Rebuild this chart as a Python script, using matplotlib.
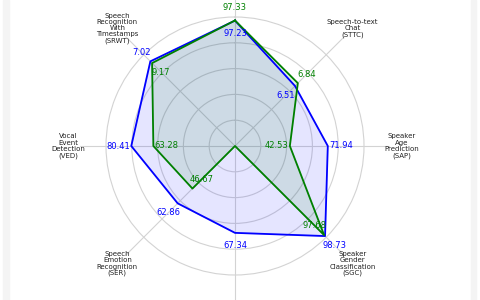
import numpy as np
import matplotlib
matplotlib.use("Agg")
import matplotlib.pyplot as plt
from matplotlib.patches import Rectangle

# Categories (clockwise from top); top and bottom names are outside the visible crop
categories = ["", "Speech-to-text\nChat\n(STTC)", "Speaker\nAge\nPrediction\n(SAP)",
              "Speaker\nGender\nClassification\n(SGC)", "",
              "Speech\nEmotion\nRecognition\n(SER)", "Vocal\nEvent\nDetection\n(VED)",
              "Speech\nRecognition\nWith\nTimestamps\n(SRWT)"]

# Normalized scores used for the radar radius
blue_scores = [97.23, 65.8, 71.94, 98.73, 67.34, 62.86, 80.41, 92.8]
green_scores = [97.33, 68.9, 42.53, 97.68, 0.0, 46.67, 63.28, 90.9]

# Raw values shown as labels
blue_labels = ["97.23", "6.51", "71.94", "98.73", "67.34", "62.86", "80.41", "7.02"]
green_labels = ["97.33", "6.84", "42.53", "97.68", "", "46.67", "63.28", "9.17"]

W, H, DPI = 480, 300, 100
fig = plt.figure(figsize=(W / DPI, H / DPI), dpi=DPI)
fig.patch.set_facecolor("white")

# faint card edges
fig.patches.append(Rectangle((3 / W, 0), 6 / W, 1, transform=fig.transFigure,
                             color="#f4f4f4", zorder=0))
fig.patches.append(Rectangle((471 / W, 0), 5 / W, 1, transform=fig.transFigure,
                             color="#f4f4f4", zorder=0))

rmax = 120
px_per_unit = 1.29
R = rmax * px_per_unit
cx, cy = 235, 300 - 146
ax = fig.add_axes([(cx - R) / W, (cy - R) / H, 2 * R / W, 2 * R / H], polar=True)
ax.patch.set_alpha(0)

n = len(categories)
angles = np.linspace(0, 2 * np.pi, n, endpoint=False)
ax.set_theta_offset(np.pi / 2)
ax.set_theta_direction(-1)
ax.set_ylim(0, rmax)
ax.set_yticks([20, 40, 60, 80, 100])
ax.set_yticklabels([])
ax.set_xticks(angles)
ax.set_xticklabels([])
ax.spines["polar"].set_visible(False)
ax.grid(True, color="#d3d3d3", linewidth=0.8)
ax.tick_params(length=0)

ang_c = np.concatenate([angles, angles[:1]])
b = np.array(blue_scores + blue_scores[:1])
g = np.array(green_scores + green_scores[:1])

ax.fill(ang_c, b, color="blue", alpha=0.1, zorder=2)
ax.plot(ang_c, b, color="blue", linewidth=1.3, zorder=3)
ax.fill(ang_c, g, color="green", alpha=0.1, zorder=2)
ax.plot(ang_c, g, color="green", linewidth=1.3, zorder=3)

fs_val = 6.0
for a, bv, gv, bl, gl in zip(angles, blue_scores, green_scores, blue_labels, green_labels):
    if bv >= gv:
        boff, goff = 10, -10
    else:
        boff, goff = -10, 10
    if bl:
        ax.text(a, bv + boff, bl, color="blue", fontsize=fs_val, ha="center", va="center", zorder=5)
    if gl:
        ax.text(a, gv + goff, gl, color="green", fontsize=fs_val, ha="center", va="center", zorder=5)

for a, lab in zip(angles, categories):
    if lab:
        ax.text(a, 129, lab, fontsize=5.0, ha="center", va="center", color="#222222",
                linespacing=1.05, zorder=5)

fig.savefig("out.png", dpi=DPI)
